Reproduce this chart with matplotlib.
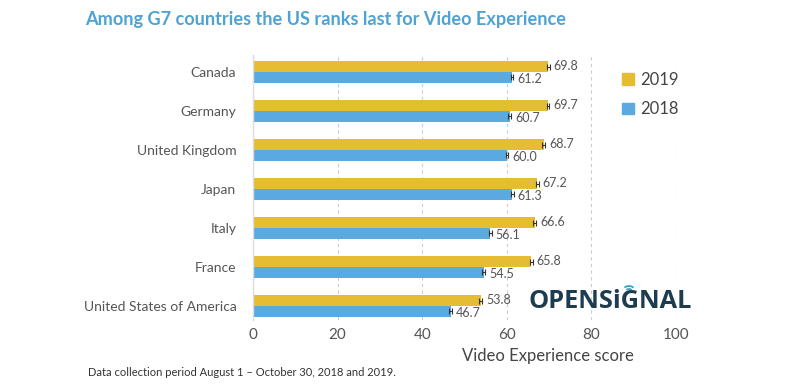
import matplotlib.pyplot as plt
from matplotlib.patches import Arc, Patch
import numpy as np

countries = ["Canada", "Germany", "United Kingdom", "Japan", "Italy", "France",
             "United States of America"]
score_2019 = [69.8, 69.7, 68.7, 67.2, 66.6, 65.8, 53.8]
score_2018 = [61.2, 60.7, 60.0, 61.3, 56.1, 54.5, 46.7]
x_ticks = [0, 20, 40, 60, 80, 100]

yellow = "#e4bd32"
blue = "#5aaadf"
grey_text = "#555555"

plt.rcParams["font.family"] = ["Lato", "DejaVu Sans"]

fig = plt.figure(figsize=(7.93, 3.90), dpi=100)
ax = fig.add_axes([253 / 793, 1 - 320 / 390, (676 - 253) / 793, (320 - 55) / 390])

pos = np.arange(len(countries))
h = 0.27

ax.barh(pos - h / 2, score_2019, height=h, color=yellow)
ax.barh(pos + h / 2, score_2018, height=h, color=blue)
ax.errorbar(score_2019, pos - h / 2, xerr=0.3, fmt="none", ecolor="#333333",
            elinewidth=0.8, capsize=2.5, capthick=0.8)
ax.errorbar(score_2018, pos + h / 2, xerr=0.3, fmt="none", ecolor="#333333",
            elinewidth=0.8, capsize=2.5, capthick=0.8)

for p, v in zip(pos, score_2019):
    ax.text(v + 1.3, p - h / 2 - 0.02, f"{v:.1f}", va="center", ha="left",
            fontsize=9, color=grey_text)
for p, v in zip(pos, score_2018):
    ax.text(v + 1.3, p + h / 2 + 0.05, f"{v:.1f}", va="center", ha="left",
            fontsize=9, color=grey_text)

ax.set_xlim(0, 100)
ax.set_ylim(len(countries) - 1 + 14 / 39, -17 / 39)
ax.set_xticks(x_ticks)
ax.set_xticklabels([str(t) for t in x_ticks], fontsize=11, color=grey_text)
ax.set_yticks(pos)
ax.set_yticklabels(countries, fontsize=10, color=grey_text)
ax.tick_params(axis="both", length=0)
ax.tick_params(axis="y", pad=12)
ax.tick_params(axis="x", pad=6)

ax.grid(axis="x", linestyle=(0, (3, 3)), color="#cccccc", linewidth=0.8)
ax.set_axisbelow(True)
for side in ["top", "right", "bottom"]:
    ax.spines[side].set_visible(False)
ax.spines["left"].set_color("#dddddd")
ax.spines["left"].set_linewidth(1.0)

handles = [Patch(color=yellow, label="2019"), Patch(color=blue, label="2018")]
fig.legend(handles=handles, loc="upper left", bbox_to_anchor=(607 / 793, 1 - 57 / 390),
           frameon=False, fontsize=12, handlelength=0.7, handleheight=0.7,
           handletextpad=0.4, labelspacing=0.8, labelcolor="#444444")

fig.text(85 / 793, 1 - 19 / 390,
         "Among G7 countries the US ranks last for Video Experience",
         fontsize=13.1, fontweight="bold", color="#4fa3d3", va="center", ha="left")
fig.text(548 / 793, 1 - 356 / 390, "Video Experience score", fontsize=12,
         color="#444444", ha="center", va="center")
fig.text(88 / 793, 1 - 373 / 390,
         "Data collection period August 1 \u2013 October 30, 2018 and 2019.",
         fontsize=8, color="#333333", ha="left", va="center")

# logo
fig.text(610 / 793, 1 - 302 / 390, "OPENSiGNAL", fontsize=18.3, fontweight="bold",
         family=["Open Sans", "DejaVu Sans"], color="#1d3c50", ha="center", va="center")
for r in [4, 7]:
    arc = Arc((629, 390 - 293), 2 * r, 2 * r, theta1=50, theta2=130,
              color="#3aa0d0", lw=1.3, transform=None)
    fig.patches.append(arc)

fig.savefig("out.png", dpi=100)
